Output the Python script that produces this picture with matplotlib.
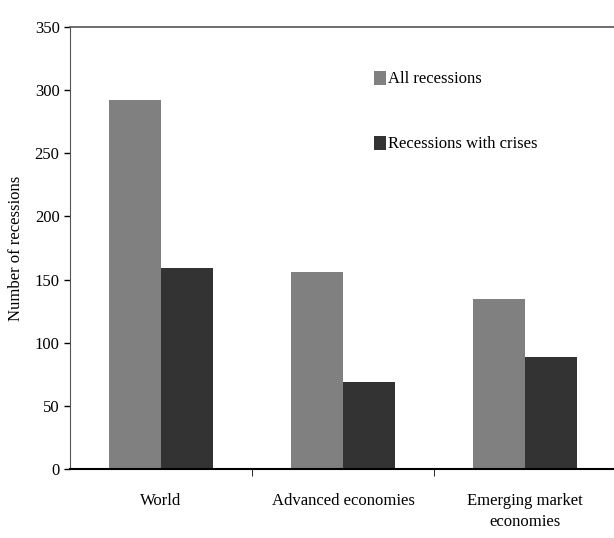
import matplotlib
matplotlib.use("Agg")
import matplotlib.pyplot as plt
import numpy as np

categories = ["World", "Advanced economies", "Emerging market\neconomies"]
all_recessions = [292, 156, 135]
recessions_with_crises = [159, 69, 89]
series_labels = ["All recessions", "Recessions with crises"]
colors = ["#808080", "#333333"]

plt.rcParams["font.family"] = ["Liberation Serif", "DejaVu Serif"]

fig = plt.figure(figsize=(6.14, 5.38), dpi=100)
ax = fig.add_axes([70/614, (538-469)/538, 546/614, 442/538])

x = np.arange(len(categories))
w = 0.285
ax.bar(x - w/2, all_recessions, w, color=colors[0], label=series_labels[0])
ax.bar(x + w/2, recessions_with_crises, w, color=colors[1], label=series_labels[1])

ax.set_xlim(-0.5, 2.5)
ax.set_ylim(0, 350)
ax.set_yticks(np.arange(0, 351, 50))
ax.set_xticks(x)
ax.set_xticklabels(categories, fontsize=12, linespacing=1.45, va="top")
ax.tick_params(axis="x", length=0, pad=17)
ax.set_xticks([0.5, 1.5], minor=True)
ax.tick_params(axis="x", which="minor", length=5, direction="out")
ax.tick_params(axis="y", labelsize=12, length=4, direction="out", width=1)
ax.spines["top"].set_color("#555555")
ax.spines["right"].set_visible(False)
ax.spines["bottom"].set_linewidth(1.5)
ax.spines["top"].set_linewidth(1.2)
ax.spines["left"].set_color("#555555")

ax.set_ylabel("Number of recessions", fontsize=12)
ax.yaxis.set_label_coords(-0.084, 0.5)

ax.legend(loc="upper left", bbox_to_anchor=(0.53, 0.935), frameon=False,
          fontsize=12, handlelength=0.7, handleheight=0.9, handletextpad=0.1,
          labelspacing=2.9)

fig.savefig("out.png", dpi=100)
